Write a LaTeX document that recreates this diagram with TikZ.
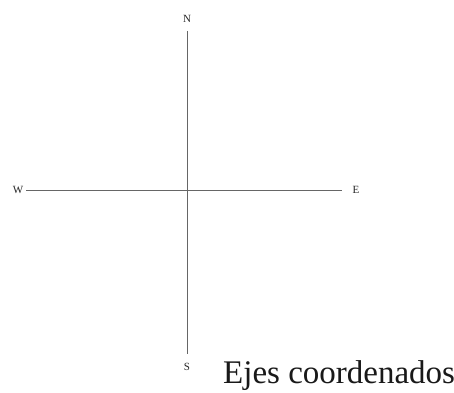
\documentclass[tikz,border=0pt]{standalone}
\usepackage{fontspec}
\setmainfont{Liberation Serif}
\begin{document}
\begin{tikzpicture}[x=1pt,y=-1pt,
  dir/.style={font=\fontsize{11}{13}\selectfont, text=black!85, inner sep=0pt},
  axis/.style={draw=black!60, line width=1pt},
  caption/.style={font=\fontsize{33}{38}\selectfont, text=black!90, anchor=base west, inner sep=0pt}]
\useasboundingbox (0,0) rectangle (454,392);
\node[dir] (N) at (187,19) {N};
\node[dir] (S) at (187,367) {S};
\node[dir] (W) at (18,190) {W};
\node[dir] (E) at (356,190) {E};
\draw[axis, shorten <=8pt, shorten >=9pt] (N) -- (S);
\draw[axis, shorten <=3pt, shorten >=10pt] (W) -- (E);
\node[caption] (cap) at (223,383) {Ejes coordenados};
\end{tikzpicture}
\end{document}
